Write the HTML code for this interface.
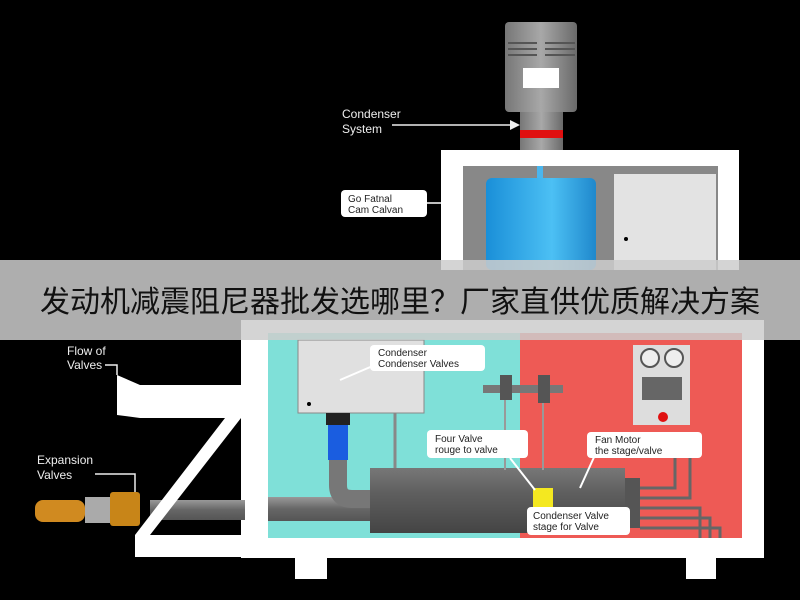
<!DOCTYPE html>
<html><head><meta charset="utf-8"><style>
body{margin:0;width:800px;height:600px;background:#000;overflow:hidden;font-family:"Liberation Sans","Noto Sans CJK SC",sans-serif}
</style></head><body>
<svg width="800" height="600" xmlns="http://www.w3.org/2000/svg" style="position:absolute;left:0;top:0">
<defs>
<linearGradient id="cyl" x1="0" x2="1"><stop offset="0" stop-color="#777"/><stop offset=".5" stop-color="#a8a8a8"/><stop offset="1" stop-color="#6a6a6a"/></linearGradient>
<linearGradient id="blue" x1="0" x2="1"><stop offset="0" stop-color="#1a8fd8"/><stop offset=".6" stop-color="#4cc0f4"/><stop offset="1" stop-color="#1f88cc"/></linearGradient>
<linearGradient id="pipe" x1="0" y1="0" x2="0" y2="1"><stop offset="0" stop-color="#999"/><stop offset=".5" stop-color="#666"/><stop offset="1" stop-color="#555"/></linearGradient>
<linearGradient id="big" x1="0" y1="0" x2="0" y2="1"><stop offset="0" stop-color="#777"/><stop offset=".4" stop-color="#5e5e5e"/><stop offset="1" stop-color="#444"/></linearGradient>
</defs>
<rect x="505" y="22" width="72" height="90" rx="4" fill="url(#cyl)"/>
<g stroke="#555" stroke-width="2"><line x1="508" y1="43" x2="537" y2="43"/><line x1="545" y1="43" x2="575" y2="43"/><line x1="508" y1="49" x2="537" y2="49"/><line x1="545" y1="49" x2="575" y2="49"/><line x1="508" y1="55" x2="537" y2="55"/><line x1="545" y1="55" x2="575" y2="55"/></g>
<rect x="523" y="68" width="36" height="20" fill="#fff"/>
<rect x="520" y="112" width="43" height="40" fill="url(#cyl)"/>
<rect x="520" y="130" width="43" height="8" fill="#e01010"/>
<text x="342" y="118" fill="#eee" font-size="12">Condenser</text>
<text x="342" y="133" fill="#eee" font-size="12">System</text>
<line x1="392" y1="125" x2="515" y2="125" stroke="#eee" stroke-width="1.5"/>
<polygon points="520,125 510,120 510,130" fill="#eee"/>
<rect x="441" y="150" width="298" height="120" fill="#fff"/>
<rect x="463" y="166" width="255" height="104" fill="#888"/>
<rect x="486" y="178" width="110" height="92" rx="6" fill="url(#blue)"/>
<rect x="537" y="166" width="6" height="12" fill="#4ab6ee"/>
<rect x="614" y="174" width="102" height="96" fill="#e3e3e3"/>
<circle cx="626" cy="239" r="2" fill="#000"/>
<rect x="341" y="190" width="86" height="27" rx="4" fill="#fff"/>
<text x="348" y="202" font-size="10" fill="#222">Go Fatnal</text>
<text x="348" y="213" font-size="10" fill="#222">Cam Calvan</text>
<line x1="427" y1="203" x2="441" y2="203" stroke="#fff" stroke-width="1.5"/>
<rect x="241" y="320" width="523" height="238" fill="#fff"/>
<rect x="268" y="333" width="252" height="205" fill="#7fe0d8"/>
<rect x="520" y="333" width="222" height="205" fill="#ee5a55"/>
<rect x="295" y="557" width="32" height="22" fill="#fff"/>
<rect x="686" y="557" width="30" height="22" fill="#fff"/>
<rect x="298" y="340" width="126" height="73" fill="#e0e0e0" stroke="#888"/>
<circle cx="309" cy="404" r="2" fill="#000"/>
<rect x="326" y="413" width="24" height="12" fill="#222"/>
<rect x="328" y="425" width="20" height="35" fill="#1a5de0"/>
<rect x="268" y="497" width="110" height="24" fill="url(#pipe)"/>
<rect x="150" y="500" width="95" height="20" fill="url(#pipe)"/>
<path d="M338 460 v25 q0 14 14 14 h20" fill="none" stroke="#777" stroke-width="18"/>
<rect x="370" y="468" width="255" height="65" fill="url(#big)"/>
<rect x="625" y="478" width="15" height="50" fill="#555"/>
<line x1="395" y1="413" x2="395" y2="468" stroke="#888" stroke-width="3"/>
<line x1="505" y1="400" x2="505" y2="470" stroke="#999" stroke-width="2"/>
<line x1="543" y1="400" x2="543" y2="470" stroke="#999" stroke-width="2"/>
<rect x="483" y="385" width="80" height="8" fill="#777"/>
<rect x="500" y="375" width="12" height="25" fill="#555"/>
<rect x="538" y="375" width="12" height="28" fill="#555"/>
<rect x="533" y="488" width="20" height="20" fill="#f4e820"/>
<g fill="none" stroke="#666" stroke-width="3"><path d="M640 488 h35 v-55"/><path d="M640 498 h50 v-60"/><path d="M640 508 h60 v30"/><path d="M640 518 h70 v20"/><path d="M640 528 h80 v10"/></g>
<rect x="633" y="345" width="57" height="80" fill="#ddd"/>
<circle cx="650" cy="358" r="9" fill="#eee" stroke="#555" stroke-width="2"/>
<circle cx="674" cy="358" r="9" fill="#eee" stroke="#555" stroke-width="2"/>
<rect x="642" y="377" width="40" height="23" fill="#666"/>
<circle cx="663" cy="417" r="5" fill="#e01010"/>
<rect x="370" y="345" width="115" height="26" rx="4" fill="#fff"/>
<text x="378" y="356" font-size="10" fill="#222">Condenser</text>
<text x="378" y="367" font-size="10" fill="#222">Condenser Valves</text>
<line x1="375" y1="365" x2="340" y2="380" stroke="#fff" stroke-width="2"/>
<rect x="427" y="430" width="101" height="28" rx="4" fill="#fff"/>
<text x="435" y="442" font-size="10" fill="#222">Four Valve</text>
<text x="435" y="453" font-size="10" fill="#222">rouge to valve</text>
<line x1="510" y1="458" x2="535" y2="490" stroke="#fff" stroke-width="2"/>
<rect x="587" y="432" width="115" height="26" rx="4" fill="#fff"/>
<text x="595" y="443" font-size="10" fill="#222">Fan Motor</text>
<text x="595" y="454" font-size="10" fill="#222">the stage/valve</text>
<line x1="595" y1="455" x2="580" y2="488" stroke="#fff" stroke-width="2"/>
<rect x="527" y="507" width="103" height="28" rx="4" fill="#fff"/>
<text x="533" y="519" font-size="10" fill="#222">Condenser Valve</text>
<text x="533" y="530" font-size="10" fill="#222">stage for Valve</text>
<polygon points="117,375 140,385 241,385 241,418 150,535 241,535 241,557 135,557 135,535 225,418 140,418 117,415" fill="#fff"/>
<rect x="35" y="500" width="50" height="22" rx="8" fill="#d08a20"/>
<rect x="85" y="497" width="30" height="26" fill="#aaa"/>
<rect x="110" y="492" width="30" height="34" rx="3" fill="#c88518"/>
<text x="67" y="355" fill="#eee" font-size="12">Flow of</text>
<text x="67" y="369" fill="#eee" font-size="12">Valves</text>
<path d="M105 365 h12 v10" fill="none" stroke="#eee" stroke-width="1.5"/>
<text x="37" y="464" fill="#eee" font-size="12">Expansion</text>
<text x="37" y="479" fill="#eee" font-size="12">Valves</text>
<path d="M95 474 h40 v18" fill="none" stroke="#eee" stroke-width="1.5"/>
<rect x="0" y="260" width="800" height="80" fill="rgba(205,205,205,0.85)"/>
<text x="400" y="312" text-anchor="middle" font-size="30" fill="#111" textLength="720" lengthAdjust="spacingAndGlyphs" font-family="Noto Sans CJK SC, sans-serif">发动机减震阻尼器批发选哪里？厂家直供优质解决方案</text>
</svg>
</body></html>
